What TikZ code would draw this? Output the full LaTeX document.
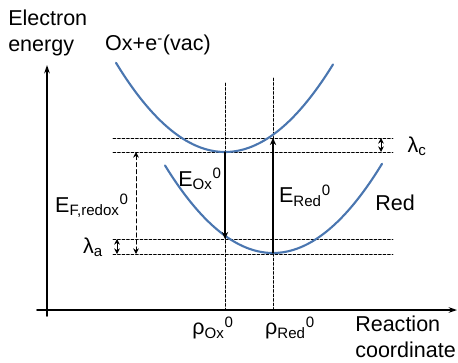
\documentclass[tikz,border=0pt]{standalone}
\usepackage{fontspec}
\setmainfont{Liberation Sans}
\usetikzlibrary{arrows.meta}
\definecolor{curveblue}{RGB}{74,118,176}
\tikzset{
  axis/.style={line width=1.1pt,-{Stealth[length=6pt,width=4pt]}},
  guide/.style={line width=0.6pt,dash pattern=on 2pt off 1.2pt},
  well/.style={curveblue,line width=1.5pt,smooth,samples=60},
  gap/.style={line width=0.7pt,{Stealth[length=4pt,width=4pt]}-{Stealth[length=4pt,width=4pt]}},
  jump/.style={line width=0.9pt,-{Stealth[length=5pt,width=4.5pt]}},
  lab/.style={inner sep=0pt,font=\fontsize{15.3}{18.5}\selectfont}
}
\begin{document}
\begin{tikzpicture}[x=0.025cm,y=-0.025cm,line join=round,line cap=round]
  \def\a{0.0075}
  \useasboundingbox (0,0) rectangle (458,362);

  % Achsen
  \coordinate (orig) at (47,310);
  \coordinate (ytip) at (47,65);
  \coordinate (xtip) at (457,310);
  \draw[axis] (47,316) -- (ytip);
  \draw[axis] (37,310) -- (xtip);

  % Energieniveaus
  \coordinate (oxmin) at (225,152);
  \coordinate (redmin) at (273,253);
  \coordinate (oxcut) at (273,138);
  \coordinate (redcut) at (225,239);
  \draw[guide] (113,138) -- (393,138);
  \draw[guide] (113,152) -- (393,152);
  \draw[guide] (113,239) -- (393,239);
  \draw[guide] (113,254) -- (393,254);

  % senkrechte Hilfslinien
  \draw[guide] (225,83) -- (225,310);
  \draw[guide] (273,78) -- (273,310);

  % Parabeln
  \draw[well,domain=116:333] plot (\x,{152-\a*(\x-225)^2});
  \draw[well,domain=165:382] plot (\x,{253-\a*(\x-273)^2});

  % Pfeile
  \draw[jump] (oxmin) -- (redcut);
  \draw[jump] (redmin) -- (oxcut);
  \draw[gap,dashed,dash pattern=on 3pt off 2pt] (136,152) -- (136,254);
  \draw[gap] (117,239) -- (117,254);
  \draw[gap] (381,138) -- (381,152);

  % Beschriftungen
  \node[lab,align=left,anchor=west] (yl) at (8,33) {Electron\\energy};
  \node[lab] (ox) at (158,45) {Ox+e\textsuperscript{-}(vac)};
  \node[lab] (efr) at (92,206) {E\textsubscript{F,redox}\textsuperscript{0}};
  \node[lab] (la) at (93,247) {λ\textsubscript{a}};
  \node[lab] (lc) at (417,146) {λ\textsubscript{c}};
  \node[lab] (eox) at (200,179) {E\textsubscript{Ox}\textsuperscript{0}};
  \node[lab] (ered) at (305,196) {E\textsubscript{Red}\textsuperscript{0}};
  \node[lab] (red) at (395,203) {Red};
  \node[lab] (rox) at (213,328) {ρ\textsubscript{Ox}\textsuperscript{0}};
  \node[lab] (rred) at (290,328) {ρ\textsubscript{Red}\textsuperscript{0}};
  \node[lab,align=left,anchor=west] (xl) at (355,337) {Reaction\\coordinate};
\end{tikzpicture}
\end{document}
